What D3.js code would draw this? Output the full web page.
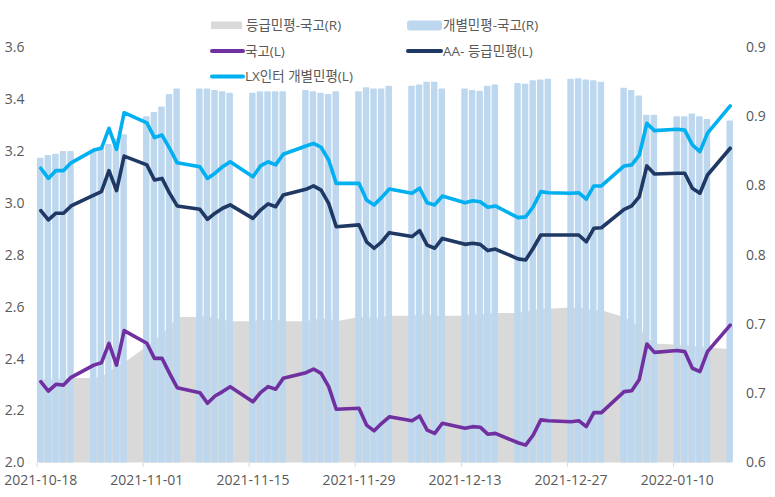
<!DOCTYPE html>
<html><head><meta charset="utf-8">
<script src="https://cdn.jsdelivr.net/npm/d3@7"></script>
<style>
html,body{margin:0;padding:0;background:#fff;}
svg{display:block;font-family:"Open Sans","Noto Sans CJK KR",sans-serif;}
</style></head>
<body><svg id="c" width="775" height="497"></svg>
<script>
const dates = [
"2021-10-18","2021-10-19","2021-10-20","2021-10-21","2021-10-22",
"2021-10-25","2021-10-26","2021-10-27","2021-10-28","2021-10-29",
"2021-11-01","2021-11-02","2021-11-03","2021-11-04","2021-11-05",
"2021-11-08","2021-11-09","2021-11-10","2021-11-11","2021-11-12",
"2021-11-15","2021-11-16","2021-11-17","2021-11-18","2021-11-19",
"2021-11-22","2021-11-23","2021-11-24","2021-11-25","2021-11-26",
"2021-11-29","2021-11-30","2021-12-01","2021-12-02","2021-12-03",
"2021-12-06","2021-12-07","2021-12-08","2021-12-09","2021-12-10",
"2021-12-13","2021-12-14","2021-12-15","2021-12-16","2021-12-17",
"2021-12-20","2021-12-21","2021-12-22","2021-12-23","2021-12-24",
"2021-12-27","2021-12-28","2021-12-29","2021-12-30","2021-12-31",
"2022-01-03","2022-01-04","2022-01-05","2022-01-06","2022-01-07",
"2022-01-10","2022-01-11","2022-01-12","2022-01-13","2022-01-14",
"2022-01-17"];

// 국고(L)
const ktb = [
2.311,2.275,2.301,2.298,2.328,
2.375,2.384,2.459,2.375,2.508,
2.459,2.401,2.401,2.343,2.288,
2.269,2.228,2.256,2.273,2.292,
2.234,2.269,2.292,2.282,2.324,
2.346,2.360,2.343,2.292,2.205,
2.209,2.144,2.122,2.151,2.176,
2.161,2.179,2.125,2.112,2.151,
2.132,2.138,2.136,2.109,2.112,
2.076,2.067,2.106,2.164,2.161,
2.157,2.161,2.138,2.192,2.192,
2.273,2.276,2.320,2.456,2.424,
2.431,2.427,2.363,2.350,2.427,
2.529];

// AA- 등급민평(L)
const aaMinus = [
2.970,2.934,2.960,2.960,2.988,
3.030,3.043,3.124,3.047,3.180,
3.146,3.088,3.094,3.037,2.988,
2.975,2.936,2.960,2.979,2.992,
2.940,2.972,2.996,2.985,3.030,
3.052,3.065,3.049,2.998,2.908,
2.915,2.850,2.825,2.850,2.885,
2.870,2.893,2.837,2.825,2.863,
2.840,2.844,2.840,2.816,2.822,
2.784,2.780,2.825,2.876,2.876,
2.876,2.876,2.850,2.902,2.904,
2.975,2.988,3.024,3.142,3.111,
3.114,3.114,3.056,3.037,3.107,
3.210];

// LX인터 개별민평(L)
const lx = [
3.133,3.094,3.124,3.124,3.154,
3.203,3.210,3.287,3.206,3.347,
3.308,3.251,3.261,3.210,3.154,
3.139,3.094,3.114,3.139,3.158,
3.100,3.142,3.158,3.146,3.187,
3.219,3.229,3.214,3.165,3.075,
3.075,3.011,2.992,3.021,3.053,
3.037,3.056,3.000,2.992,3.026,
3.000,3.008,3.004,2.983,2.988,
2.943,2.946,2.985,3.043,3.039,
3.037,3.039,3.014,3.065,3.065,
3.142,3.146,3.184,3.306,3.278,
3.283,3.280,3.223,3.197,3.268,
3.373];

// 개별민평-국고(R)
const spreadIndiv = [
0.820,0.822,0.823,0.825,0.825,
0.826,0.828,0.830,0.834,0.837,
0.850,0.853,0.857,0.866,0.870,
0.870,0.870,0.869,0.868,0.867,
0.867,0.868,0.868,0.868,0.868,
0.869,0.868,0.867,0.866,0.868,
0.868,0.871,0.870,0.870,0.872,
0.872,0.873,0.875,0.875,0.870,
0.870,0.869,0.8685,0.872,0.873,
0.874,0.8735,0.876,0.8765,0.877,
0.877,0.8775,0.8765,0.876,0.875,
0.8705,0.869,0.865,0.851,0.851,
0.850,0.850,0.852,0.850,0.848,
0.847];

// 등급민평-국고(R)
const spreadGrade = [
0.660,0.660,0.660,0.661,0.661,
0.661,0.662,0.665,0.670,0.672,
0.684,0.688,0.693,0.698,0.705,
0.705,0.706,0.704,0.703,0.702,
0.702,0.703,0.703,0.703,0.702,
0.702,0.703,0.704,0.704,0.702,
0.705,0.705,0.704,0.705,0.706,
0.706,0.707,0.707,0.706,0.706,
0.706,0.707,0.707,0.708,0.708,
0.708,0.709,0.710,0.711,0.711,
0.712,0.712,0.711,0.710,0.710,
0.705,0.702,0.698,0.690,0.686,
0.685,0.685,0.684,0.684,0.683,
0.682];

const leftTicks = [2.0,2.2,2.4,2.6,2.8,3.0,3.2,3.4,3.6];
const rightTicks = [0.6,0.65,0.7,0.75,0.8,0.85,0.9];
const rightTickLabels = ["0.6","0.7","0.7","0.8","0.8","0.9","0.9"];
const xTickDates = ["2021-10-18","2021-11-01","2021-11-15","2021-11-29","2021-12-13","2021-12-27","2022-01-10"];

const svg = d3.select("#c");
const parse = d3.utcParse("%Y-%m-%d");
const data = dates.map((d,i)=>({date:parse(d), ktb:ktb[i], aa:aaMinus[i], lx:lx[i], ind:spreadIndiv[i], grd:spreadGrade[i]}));

const x = d3.scaleUtc().domain([parse("2021-10-18"), parse("2022-01-18")]).range([37, 734]);
const yL = d3.scaleLinear().domain([2.0,3.6]).range([462.5,47]);
const yR = d3.scaleLinear().domain([0.6,0.9]).range([462.5,47]);
const slot = x(parse("2021-10-19")) - x(parse("2021-10-18"));
const cx = d => x(d.date) + slot/2;

// gray area
svg.append("path").datum(data)
  .attr("fill","#d9d9d9")
  .attr("d", d3.area().x(cx).y0(yR(0.6)).y1(d=>yR(d.grd)));

// bars
svg.append("g").selectAll("rect").data(data).join("rect")
  .attr("x", d=>x(d.date))
  .attr("width", slot-1.1)
  .attr("y", d=>yR(d.ind))
  .attr("height", d=>yR(0.6)-yR(d.ind))
  .attr("rx",1)
  .attr("fill","#bdd7ee");

// lines
const mk = key => d3.line().x(cx).y(d=>yL(d[key]));
const lineStyle = (p,c)=>p.attr("fill","none").attr("stroke",c).attr("stroke-width",3.6)
  .attr("stroke-linejoin","round").attr("stroke-linecap","round");
lineStyle(svg.append("path").datum(data).attr("d", mk("ktb")), "#7030a0");
lineStyle(svg.append("path").datum(data).attr("d", mk("aa")), "#1f3864");
lineStyle(svg.append("path").datum(data).attr("d", mk("lx")), "#00b0f0");

// left axis labels
svg.append("g").selectAll("text").data(leftTicks).join("text")
  .attr("x",24.5).attr("y",d=>yL(d)).attr("dy","0.35em")
  .attr("text-anchor","end").attr("font-size",14).attr("fill","#595959")
  .text(d=>d3.format(".1f")(d));

// right axis labels
svg.append("g").selectAll("text").data(rightTicks).join("text")
  .attr("x",746).attr("y",d=>yR(d)).attr("dy","0.35em")
  .attr("text-anchor","start").attr("font-size",14).attr("fill","#595959")
  .text((d,i)=>rightTickLabels[i]);

// x ticks & labels
const xt = svg.append("g");
xt.selectAll("line").data(xTickDates).join("line")
  .attr("x1",d=>x(parse(d))).attr("x2",d=>x(parse(d)))
  .attr("y1",462.5).attr("y2",467).attr("stroke","#d9d9d9").attr("stroke-width",1);
xt.selectAll("text").data(xTickDates).join("text")
  .attr("x",d=>x(parse(d))+slot/2).attr("y",485)
  .attr("text-anchor","middle").attr("font-size",14).attr("fill","#595959")
  .text(d=>d);

// legend
const lg = svg.append("g").attr("font-size",13.5).attr("fill","#595959");
function legText(tx,ty,t){ lg.append("text").attr("x",tx).attr("y",ty).attr("dy","0.35em").text(t); }
lg.append("rect").attr("x",211).attr("y",21.5).attr("width",31).attr("height",7.5).attr("fill","#d9d9d9");
legText(246,25,"등급민평-국고(R)");
lg.append("rect").attr("x",407).attr("y",20.5).attr("width",35).attr("height",10).attr("rx",3).attr("fill","#bdd7ee");
legText(443,25,"개별민평-국고(R)");
const legLine=(x1,x2,y,c)=>lg.append("line").attr("x1",x1).attr("x2",x2).attr("y1",y).attr("y2",y)
  .attr("stroke",c).attr("stroke-width",4).attr("stroke-linecap","round");
legLine(212,243,51,"#7030a0"); legText(245,51,"국고(L)");
legLine(408,441,51,"#1f3864"); legText(443,51,"AA- 등급민평(L)");
legLine(212,243,76.5,"#00b0f0"); legText(245,76.5,"LX인터 개별민평(L)");
</script></body></html>
